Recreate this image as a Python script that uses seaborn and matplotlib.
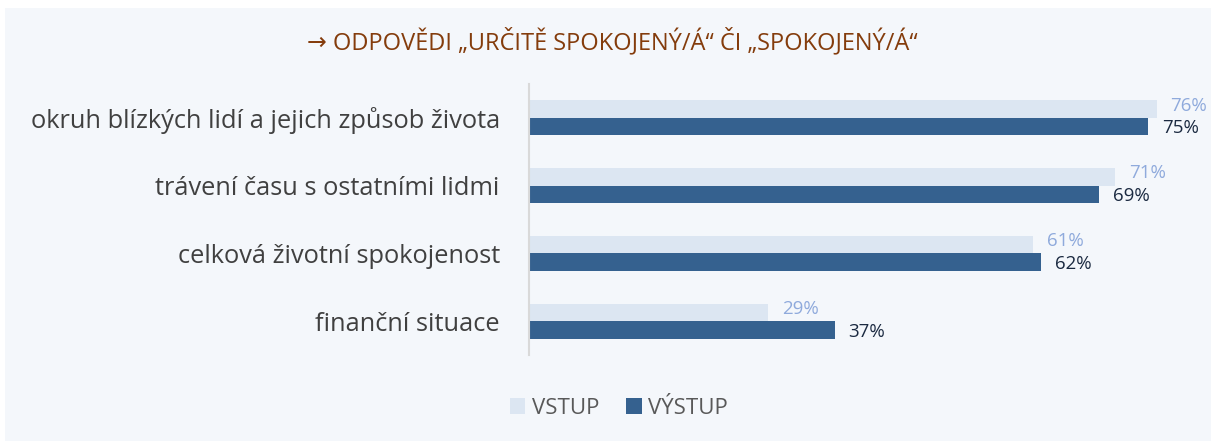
import matplotlib
matplotlib.use("Agg")
import matplotlib.pyplot as plt
import seaborn as sns
import pandas as pd
from matplotlib.patches import Rectangle, Patch

categories = ["okruh blízkých lidí a jejich způsob života",
              "trávení času s ostatními lidmi",
              "celková životní spokojenost",
              "finanční situace"]
series_names = ["VSTUP", "VÝSTUP"]
vstup = [76, 71, 61, 29]
vystup = [75, 69, 62, 37]
title = "→ ODPOVĚDI „URČITĚ SPOKOJENÝ/Á“ ČI „SPOKOJENÝ/Á“"

colors = {"VSTUP": "#DCE6F2", "VÝSTUP": "#35618F"}
label_colors = {"VSTUP": "#8FAADC", "VÝSTUP": "#1B2A41"}

df = pd.DataFrame({
    "cat": categories * 2,
    "series": [series_names[0]] * 4 + [series_names[1]] * 4,
    "value": vstup + vystup,
})

sns.set_theme(style="white")
plt.rcParams['font.family'] = ['Open Sans', 'DejaVu Sans']

fig = plt.figure(figsize=(12.11, 4.41), dpi=100, facecolor="white")
bg = "#F4F7FB"
fig.patches.append(Rectangle((5/1211, 0), 1 - 5/1211, 1 - 8/441,
                             transform=fig.transFigure, facecolor=bg,
                             edgecolor="none", zorder=-10))

ax = fig.add_axes([529/1211, 1 - 355/441, 1 - 529/1211 - 0.004, (355 - 84)/441])
ax.set_facecolor("none")

sns.barplot(data=df, y="cat", x="value", hue="series", orient="h",
            palette=colors, width=0.52, dodge=True, ax=ax,
            order=categories, hue_order=series_names, legend=False,
            saturation=1, linewidth=0, edgecolor="none")

for container, name in zip(ax.containers, series_names):
    dy = 2.5 if name == "VSTUP" else -1.2
    texts = ax.bar_label(container,
                         labels=[f"{v:.0f}%" for v in container.datavalues],
                         padding=10, color=label_colors[name], fontsize=13.5)
    for t in texts:
        t.xyann = (10, dy)

ax.set_xlim(0, 82)
ax.set_ylim(3.5, -0.5)
ax.set_xlabel("")
ax.set_ylabel("")
ax.set_xticks([])
ax.tick_params(axis="y", length=0, pad=21, labelsize=18.3, labelcolor="#404040")
for s in ["top", "right", "bottom"]:
    ax.spines[s].set_visible(False)
ax.spines["left"].set_color("#D9D9D9")
ax.spines["left"].set_linewidth(1.5)

fig.text(0.506, 1 - 42/441, title, ha="center", va="center",
         fontsize=17, color="#843C0C")

handles = [Patch(facecolor=colors[n], edgecolor="none") for n in series_names]
fig.legend(handles, series_names, loc="center", bbox_to_anchor=(0.511, 1 - 408/441),
           ncol=2, frameon=False, fontsize=16, labelcolor="#595959",
           handlelength=0.7, handleheight=0.7, handletextpad=0.3, columnspacing=1.2)

fig.savefig("out.png", dpi=100, facecolor=fig.get_facecolor())
